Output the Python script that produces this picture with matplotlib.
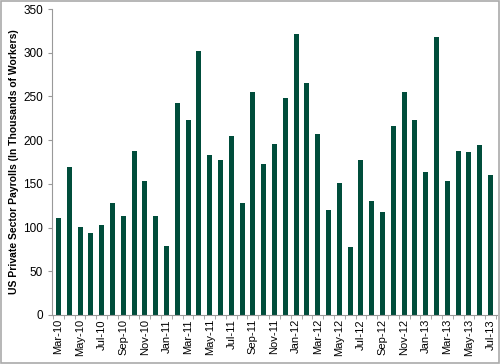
import numpy as np
import matplotlib
matplotlib.use("Agg")
import matplotlib.pyplot as plt

months = ["Mar-10", "Apr-10", "May-10", "Jun-10", "Jul-10", "Aug-10", "Sep-10", "Oct-10",
          "Nov-10", "Dec-10", "Jan-11", "Feb-11", "Mar-11", "Apr-11", "May-11", "Jun-11",
          "Jul-11", "Aug-11", "Sep-11", "Oct-11", "Nov-11", "Dec-11", "Jan-12", "Feb-12",
          "Mar-12", "Apr-12", "May-12", "Jun-12", "Jul-12", "Aug-12", "Sep-12", "Oct-12",
          "Nov-12", "Dec-12", "Jan-13", "Feb-13", "Mar-13", "Apr-13", "May-13", "Jun-13",
          "Jul-13"]
payrolls = [111, 169, 101, 94, 103, 128, 113, 188, 153, 113, 79, 242, 223, 302, 183, 177,
            205, 128, 255, 173, 196, 248, 322, 265, 207, 120, 151, 78, 177, 130, 118, 216,
            255, 223, 163, 318, 153, 187, 186, 195, 160]

plt.rcParams['font.family'] = ['Liberation Sans', 'DejaVu Sans']

fig = plt.figure(figsize=(5.0, 3.64), dpi=100)
ax = fig.add_axes([0.104, 0.135, 0.89, 0.84])

x = np.arange(len(months))
ax.bar(x, payrolls, width=0.47, color="#004d3b")

ax.set_xlim(-0.6, len(months) - 0.4)
ax.set_ylim(0, 350)
ax.set_yticks(np.arange(0, 351, 50))
ax.set_xticks(x[::2])
ax.set_xticklabels(months[::2], rotation=90, fontsize=8)
ax.set_xticks(np.arange(-0.5, len(months), 1), minor=True)
ax.tick_params(axis="x", which="major", length=0, pad=3)
ax.tick_params(axis="x", which="minor", length=3, color="#999999")
ax.tick_params(axis="y", labelsize=8.5, length=3, color="#999999")
ax.set_ylabel("US Private Sector Payrolls (In Thousands of Workers)", fontsize=7.5,
              fontweight="bold", labelpad=3)
for s in ["top", "right"]:
    ax.spines[s].set_visible(False)
for s in ["left", "bottom"]:
    ax.spines[s].set_color("#999999")

fig.patches.append(plt.Rectangle((0.002, 0.003), 0.996, 0.994, transform=fig.transFigure,
                                 fill=False, edgecolor="#aaaaaa", linewidth=1.2))

fig.savefig("out.png", dpi=100)
